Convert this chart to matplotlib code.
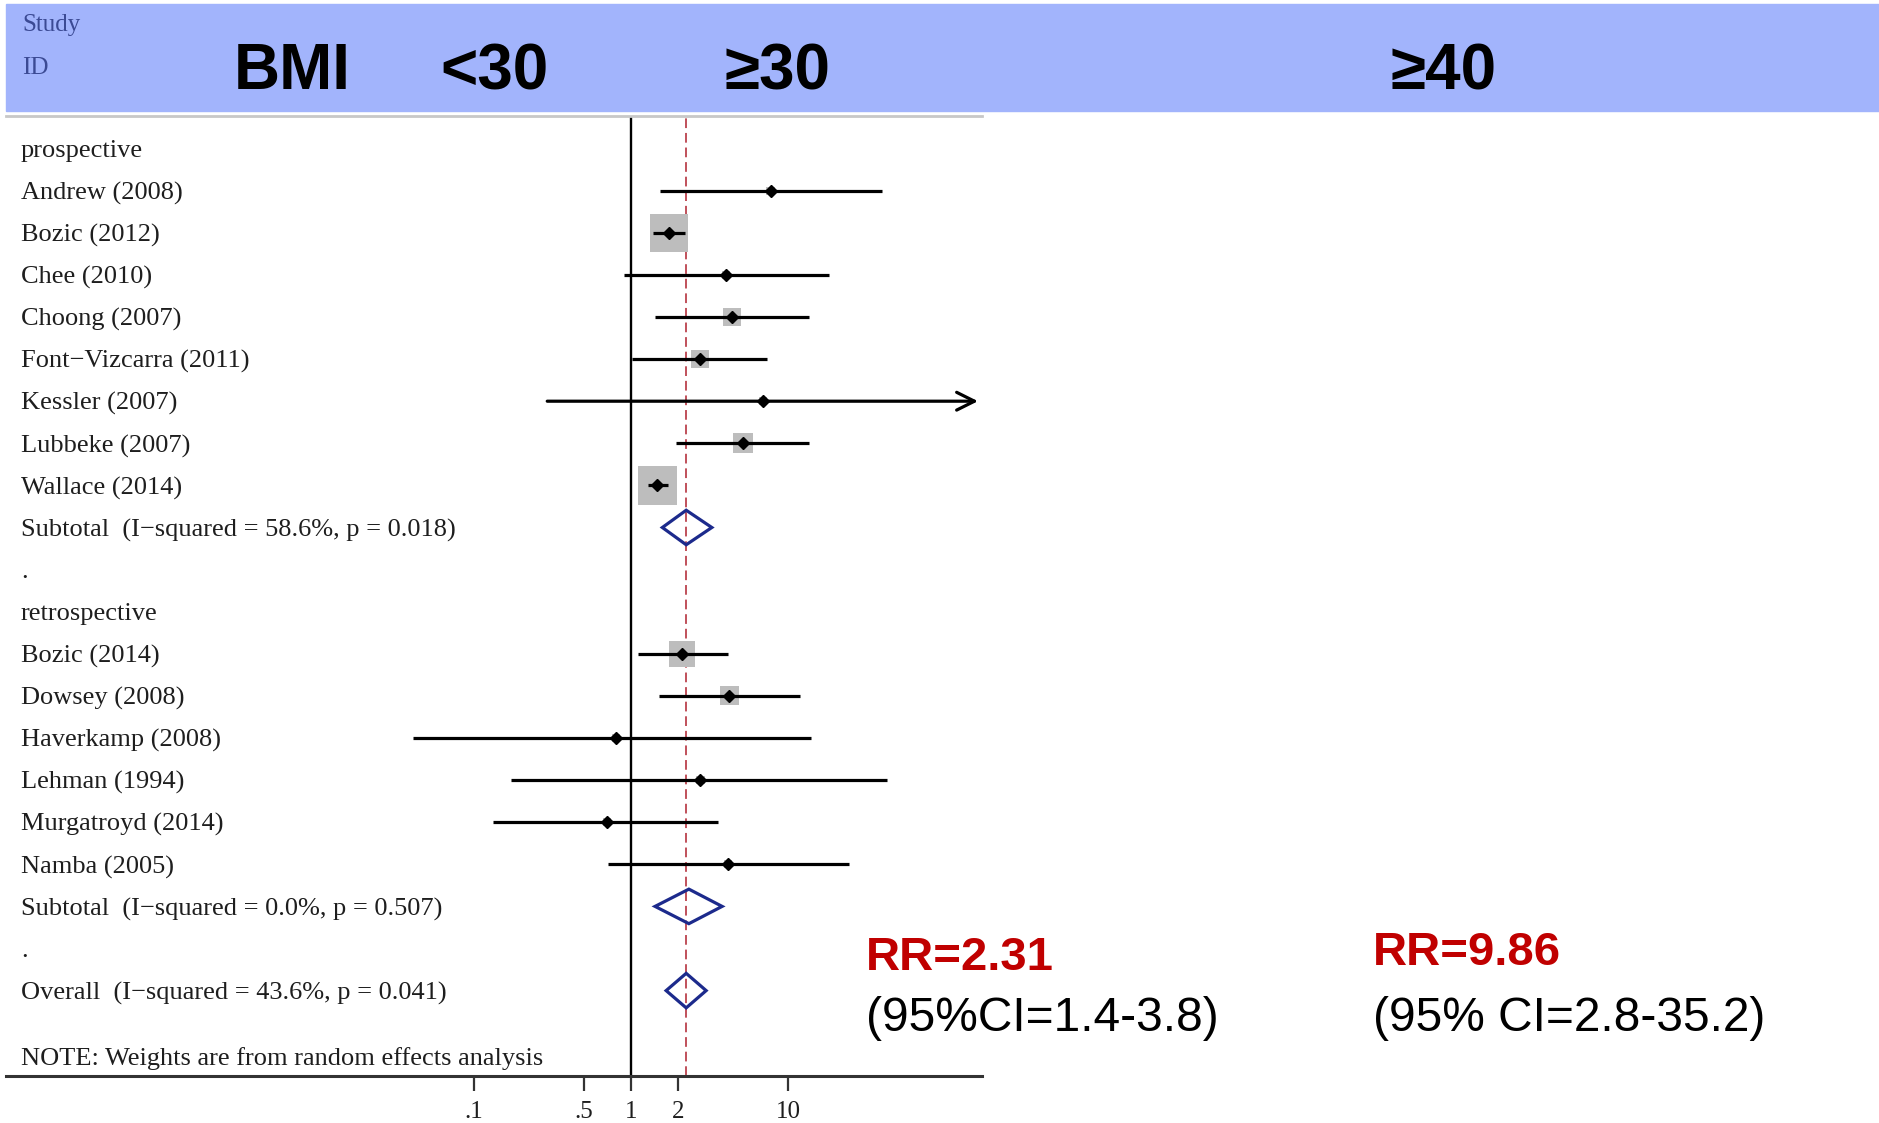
import matplotlib
matplotlib.use("Agg")
import matplotlib.pyplot as plt
from matplotlib.patches import Rectangle
import numpy as np

# --- data (risk ratios, log scale) ---
prosp_studies = ["Andrew (2008)", "Bozic (2012)", "Chee (2010)", "Choong (2007)",
                 "Font\u2212Vizcarra (2011)", "Kessler (2007)", "Lubbeke (2007)", "Wallace (2014)"]
prosp_rr = [7.70, 1.74, 4.02, 4.37, 2.76, 6.87, 5.17, 1.47]
prosp_lo = [1.52, 1.37, 0.90, 1.41, 1.02, 0.293, 1.92, 1.28]
prosp_hi = [39.5, 2.20, 18.0, 13.6, 7.27, 200.0, 13.5, 1.72]
prosp_w = [1.2, 26.3, 1.2, 5.9, 5.9, 1.2, 7.3, 27.7]

retro_studies = ["Bozic (2014)", "Dowsey (2008)", "Haverkamp (2008)", "Lehman (1994)",
                 "Murgatroyd (2014)", "Namba (2005)"]
retro_rr = [2.12, 4.20, 0.80, 2.76, 0.70, 4.15]
retro_lo = [1.11, 1.50, 0.041, 0.172, 0.132, 0.71]
retro_hi = [4.15, 11.8, 14.0, 42.5, 3.55, 24.2]
retro_w = [12.3, 6.6, 1.2, 1.2, 1.2, 1.2]

pooled_labels = ["Subtotal  (I\u2212squared = 58.6%, p = 0.018)",
                 "Subtotal  (I\u2212squared = 0.0%, p = 0.507)",
                 "Overall  (I\u2212squared = 43.6%, p = 0.041)"]
pooled_rr = [2.24, 2.33, 2.24]
pooled_lo = [1.58, 1.42, 1.67]
pooled_hi = [3.26, 3.79, 3.00]

xtick_vals = [0.1, 0.5, 1, 2, 10]
xtick_labels = [".1", ".5", "1", "2", "10"]

header_labels = ["BMI", "<30", "\u226530", "\u226540"]
rr_texts = ["RR=2.31", "RR=9.86"]
ci_texts = ["(95%CI=1.4-3.8)", "(95% CI=2.8-35.2)"]

# --- layout ---
W, H = 1879, 1123
fig = plt.figure(figsize=(W / 100, H / 100), dpi=100)
serif = ["Liberation Serif", "DejaVu Serif"]
sans = ["Liberation Sans", "DejaVu Sans"]
txt_col = "#1e1e1e"

# blue header band
fig.add_artist(Rectangle((6 / W, 1 - 111 / H), (W - 6) / W, 107 / H,
                         transform=fig.transFigure, color="#a2b4fc", zorder=0))
fig.text(22 / W, 1 - 31 / H, "Study", family=serif, fontsize=18, color="#3b4a94", va="baseline")
fig.text(22 / W, 1 - 74 / H, "ID", family=serif, fontsize=18, color="#3b4a94", va="baseline")
for lab, xp in zip(header_labels, [234, 440, 725, 1390]):
    fig.text(xp / W, 1 - 89 / H, lab, family=sans, fontsize=46, fontweight="bold",
             color="black", va="baseline")

ax = fig.add_axes([6 / W, 1 - 1076 / H, 976 / W, 960 / H])
ax.set_xscale("log")
px_per_dec = 157.3
x_one = 631.1
xmin = 10 ** ((6 - x_one) / px_per_dec)
xmax = 10 ** ((982 - x_one) / px_per_dec)
ax.set_xlim(xmin, xmax)
row0, row_h = 148.6, 42.1
ax.set_ylim((1076 - row0) / row_h, (116 - row0) / row_h)

for s in ["left", "right"]:
    ax.spines[s].set_visible(False)
ax.spines["top"].set_color("#c8c8c8")
ax.spines["top"].set_linewidth(2.0)
ax.spines["bottom"].set_color("#333333")
ax.spines["bottom"].set_linewidth(2.2)
ax.set_yticks([])
ax.set_xticks(xtick_vals)
ax.set_xticklabels(xtick_labels, family=serif, fontsize=18, color=txt_col)
ax.xaxis.set_minor_locator(matplotlib.ticker.NullLocator())
ax.tick_params(axis="x", direction="out", length=11, width=1.6, color="#333333", pad=7)

ax.axvline(1, color="black", lw=1.7, zorder=1)
ax.axvline(pooled_rr[2], color="#c0505a", lw=1.4, ls=(0, (5, 2.5)), zorder=1)

lab_tr = ax.get_yaxis_transform()
lab_x = 0.0154
box_k = 7.4 * 0.72  # points per sqrt(weight %)


def row_label(row, name):
    ax.text(lab_x, row, name, transform=lab_tr, family=serif, fontsize=19,
            color=txt_col, va="center_baseline", ha="left")


def draw_study(row, name, rr, lo, hi, w):
    row_label(row, name)
    ax.scatter([rr], [row], marker="s", s=(box_k * np.sqrt(w)) ** 2,
               color="#bdbdbd", edgecolors="none", zorder=2)
    if hi > xmax:
        ax.annotate("", xy=(10 ** ((978 - x_one) / px_per_dec), row), xytext=(lo, row),
                    arrowprops=dict(arrowstyle="->", lw=2.3, color="black",
                                    mutation_scale=32, shrinkA=0, shrinkB=0), zorder=3)
    else:
        ax.plot([lo, hi], [row, row], color="black", lw=2.3, solid_capstyle="butt", zorder=3)
    ax.plot([rr], [row], marker="D", markersize=6.5, color="black", zorder=4)


def draw_pooled(row, name, rr, lo, hi):
    row_label(row, name)
    hh = 0.41
    ax.fill([lo, rr, hi, rr, lo], [row, row - hh, row, row + hh, row],
            fill=False, edgecolor="#1c2a8c", lw=2.3, zorder=4)


row_label(0, "prospective")
for i in range(len(prosp_studies)):
    draw_study(1 + i, prosp_studies[i], prosp_rr[i], prosp_lo[i], prosp_hi[i], prosp_w[i])
draw_pooled(9, pooled_labels[0], pooled_rr[0], pooled_lo[0], pooled_hi[0])
row_label(10, ".")
row_label(11, "retrospective")
for i in range(len(retro_studies)):
    draw_study(12 + i, retro_studies[i], retro_rr[i], retro_lo[i], retro_hi[i], retro_w[i])
draw_pooled(18, pooled_labels[1], pooled_rr[1], pooled_lo[1], pooled_hi[1])
row_label(19, ".")
draw_pooled(20, pooled_labels[2], pooled_rr[2], pooled_lo[2], pooled_hi[2])
row_label(21.55, "NOTE: Weights are from random effects analysis")

# summary annotations on the right
for rr_t, ci_t, xp, yb in zip(rr_texts, ci_texts, [866, 1373], [970, 965]):
    fig.text(xp / W, 1 - yb / H, rr_t, family=sans, fontsize=34, fontweight="bold",
             color="#c00000", va="baseline")
    fig.text(xp / W, 1 - 1031 / H, ci_t, family=sans, fontsize=34.5, color="black",
             va="baseline")

fig.savefig("out.png", dpi=100)
